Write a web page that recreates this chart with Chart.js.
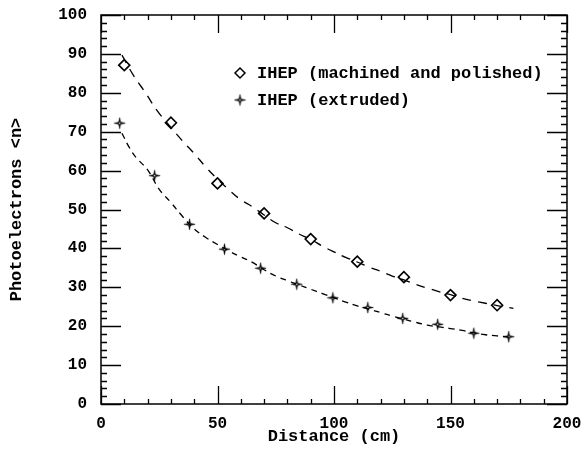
<!DOCTYPE html>
<html><head><meta charset="utf-8">
<script src="https://cdn.jsdelivr.net/npm/chart.js@4.4.1/dist/chart.umd.min.js"></script>
<style>html,body{margin:0;padding:0;background:#fff}#wrap{width:581px;height:453px;position:relative}</style>
</head><body><div id="wrap"><canvas id="c" width="581" height="453"></canvas></div>
<script>
// ---- data ----
const machinedLabel = 'IHEP (machined and polished)';
const machinedX = [10, 30, 50, 70, 90, 110, 130, 150, 170];
const machinedY = [87.1, 72.3, 56.7, 49.0, 42.4, 36.6, 32.6, 28.0, 25.4];

const extrudedLabel = 'IHEP (extruded)';
const extrudedX = [8, 23, 38, 53, 68.5, 84, 99.5, 114.5, 129.5, 144.5, 160, 175];
const extrudedY = [72.2, 58.7, 46.2, 39.8, 34.9, 30.8, 27.3, 24.8, 22.0, 20.5, 18.2, 17.3];

// dashed fit curves, read point by point along the drawn dashes
const fitMachinedX = [9, 14, 19, 24, 30, 35, 40, 45, 50, 55, 60, 65, 70, 75, 80, 85, 90, 95, 100, 105, 110, 115, 120, 125, 130, 135, 140, 145, 150, 155, 160, 165, 170, 177];
const fitMachinedY = [89.7, 84.4, 80.1, 75.5, 71.1, 67.6, 64.4, 60.9, 57.8, 55.0, 52.5, 50.7, 48.6, 46.6, 45.3, 43.7, 42.3, 40.6, 39.1, 37.7, 36.5, 35.2, 34.1, 32.9, 31.9, 30.8, 29.8, 28.9, 28.1, 27.2, 26.5, 25.9, 25.3, 24.6];

const fitExtrudedX = [9, 12, 15, 20, 25, 30, 35, 40, 45, 50, 55, 60, 65, 70, 75, 80, 85, 90, 95, 100, 105, 110, 115, 120, 125, 130, 135, 140, 145, 150, 155, 160, 165, 170, 177];
const fitExtrudedY = [69.6, 66.1, 63.4, 60.2, 55.2, 51.8, 48.2, 45.0, 42.8, 41.0, 39.3, 37.8, 36.4, 34.5, 32.9, 31.7, 30.6, 29.5, 28.4, 27.3, 26.2, 25.2, 24.4, 23.5, 22.6, 21.8, 21.0, 20.3, 19.8, 19.4, 18.9, 18.3, 17.8, 17.5, 17.1];

const xTickLabels = [0, 50, 100, 150, 200];
const yTickLabels = [0, 10, 20, 30, 40, 50, 60, 70, 80, 90, 100];
const xMinorStep = 10;
const yMinorStep = 2;

// ---- helpers ----
const pts = (xs, ys) => xs.map((x, i) => ({x: x, y: ys[i]}));
const MONO = '"Liberation Mono", "DejaVu Sans Mono", monospace';

function makeStar(){
  const c = document.createElement('canvas');
  c.width = 13; c.height = 13;
  const g = c.getContext('2d');
  const cx = 6.5, cy = 6.5, R = 5.6, r = 1.3;
  g.beginPath();
  for (let i = 0; i < 8; i++) {
    const a = -Math.PI/2 + i*Math.PI/4;
    const rad = (i % 2 === 0) ? R : r;
    const px = cx + rad*Math.cos(a), py = cy + rad*Math.sin(a);
    if (i === 0) g.moveTo(px, py); else g.lineTo(px, py);
  }
  g.closePath();
  g.fillStyle = '#000';
  g.fill();
  g.lineWidth = 0.6; g.strokeStyle = '#000'; g.stroke();
  g.beginPath(); g.arc(cx, cy, 0.8, 0, Math.PI*2); g.fillStyle = '#fff'; g.fill();
  return c;
}
const starImg = makeStar();

const frameTicks = {
  id: 'frameTicks',
  afterDatasetsDraw(chart) {
    const {ctx, chartArea: a, scales} = chart;
    const xs = scales.x, ys = scales.y;
    ctx.save();
    ctx.strokeStyle = '#000';
    ctx.lineWidth = 1.5;
    ctx.strokeRect(a.left, a.top, a.right - a.left, a.bottom - a.top);
    ctx.lineWidth = 1.3;
    ctx.beginPath();
    for (let v = xs.min; v <= xs.max + 1e-9; v += xMinorStep) {
      const p = Math.round(xs.getPixelForValue(v)) + 0.5;
      const len = xTickLabels.includes(v) ? 18 : 5;
      ctx.moveTo(p, a.bottom); ctx.lineTo(p, a.bottom - len);
      ctx.moveTo(p, a.top); ctx.lineTo(p, a.top + len);
    }
    for (let v = ys.min; v <= ys.max + 1e-9; v += yMinorStep) {
      const p = Math.round(ys.getPixelForValue(v)) + 0.5;
      const len = yTickLabels.includes(v) ? 20 : 6;
      ctx.moveTo(a.left, p); ctx.lineTo(a.left + len, p);
      ctx.moveTo(a.right, p); ctx.lineTo(a.right - len, p);
    }
    ctx.stroke();
    ctx.restore();
  }
};

const insideLegend = {
  id: 'insideLegend',
  afterDraw(chart) {
    const {ctx} = chart;
    ctx.save();
    ctx.font = 'bold 17px ' + MONO;
    ctx.fillStyle = '#000';
    ctx.textBaseline = 'middle';
    ctx.textAlign = 'left';
    const mx = 240, r1 = 73, r2 = 100, tx = 257;
    ctx.strokeStyle = '#000'; ctx.lineWidth = 1.5;
    ctx.beginPath();
    ctx.moveTo(mx, r1 - 5); ctx.lineTo(mx + 5, r1); ctx.lineTo(mx, r1 + 5); ctx.lineTo(mx - 5, r1); ctx.closePath();
    ctx.stroke();
    ctx.fillText(chart.data.datasets[2].label, tx, r1 + 1);
    ctx.drawImage(starImg, mx - 6.5, r2 - 6.5);
    ctx.fillText(chart.data.datasets[3].label, tx, r2 + 1);
    ctx.restore();
  }
};

new Chart(document.getElementById('c'), {
  type: 'scatter',
  data: {
    datasets: [
      { label: 'fit machined', data: pts(fitMachinedX, fitMachinedY), showLine: true, pointRadius: 0,
        borderColor: '#000', borderWidth: 1.3, borderDash: [9, 7], tension: 0.4, fill: false },
      { label: 'fit extruded', data: pts(fitExtrudedX, fitExtrudedY), showLine: true, pointRadius: 0,
        borderColor: '#000', borderWidth: 1.3, borderDash: [6, 5], tension: 0.4, fill: false },
      { label: machinedLabel, data: pts(machinedX, machinedY), pointStyle: 'rectRot', pointRadius: 5.5,
        pointBorderWidth: 1.6, borderColor: '#000', backgroundColor: '#fff', showLine: false },
      { label: extrudedLabel, data: pts(extrudedX, extrudedY), pointStyle: starImg, pointRadius: 6,
        showLine: false }
    ]
  },
  options: {
    responsive: false, animation: false, devicePixelRatio: 1,
    layout: { padding: { left: 0, right: 14, top: 15, bottom: 0 } },
    plugins: { legend: { display: false }, tooltip: { enabled: false } },
    scales: {
      x: {
        type: 'linear', min: 0, max: 200,
        afterBuildTicks: s => { s.ticks = xTickLabels.map(v => ({value: v})); },
        afterFit: s => { s.height = 49; s.paddingLeft = 0; s.paddingRight = 0; },
        grid: { display: false, drawTicks: false },
        border: { display: false },
        ticks: { color: '#000', padding: 10, maxRotation: 0, autoSkip: false, font: { family: MONO, size: 16, weight: 'bold' } },
        title: { display: true, text: 'Distance (cm)', color: '#000', padding: { top: 0, bottom: 6 },
                 font: { family: MONO, size: 17, weight: 'bold' } }
      },
      y: {
        type: 'linear', min: 0, max: 100,
        afterBuildTicks: s => { s.ticks = yTickLabels.map(v => ({value: v})); },
        afterFit: s => { s.width = 101; s.paddingTop = 0; s.paddingBottom = 0; },
        grid: { display: false, drawTicks: false },
        border: { display: false },
        ticks: { color: '#000', padding: 14, autoSkip: false, font: { family: MONO, size: 16, weight: 'bold' } },
        title: { display: true, text: 'Photoelectrons <n>', color: '#000', padding: { top: 7, bottom: 0 },
                 font: { family: MONO, size: 17, weight: 'bold' } }
      }
    }
  },
  plugins: [frameTicks, insideLegend]
});
</script></body></html>
